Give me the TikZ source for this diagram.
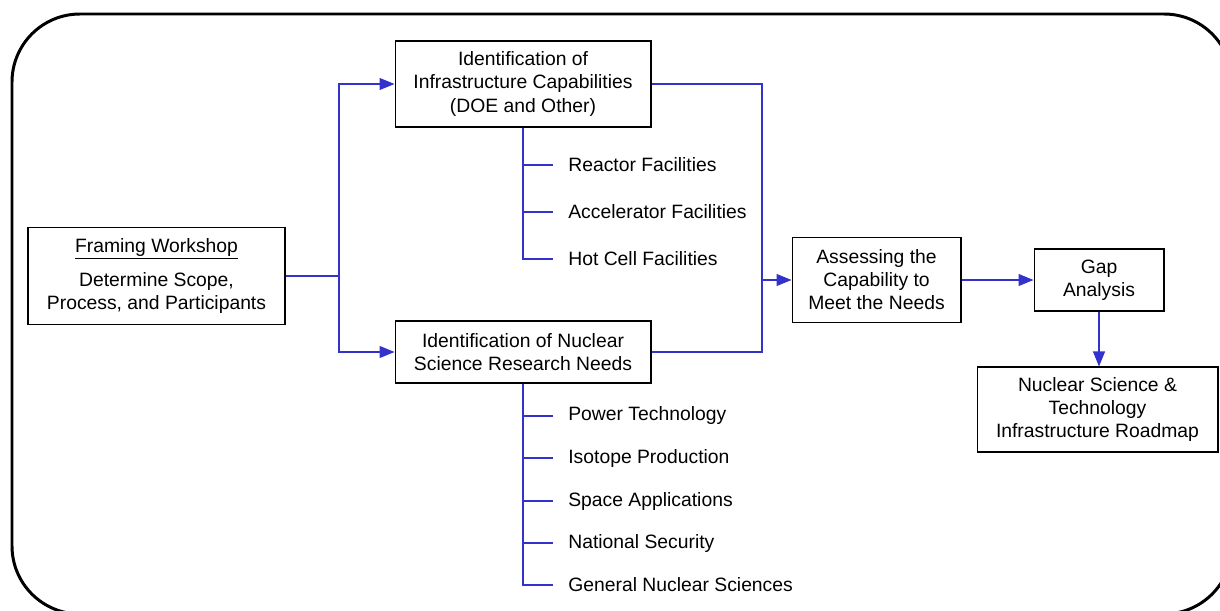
\documentclass[tikz,border=0pt]{standalone}
\usepackage{fontspec}
\setmainfont{Liberation Sans}
\usetikzlibrary{arrows.meta}
\definecolor{linkblue}{RGB}{51,51,204}

\begin{document}
\begin{tikzpicture}[x=0.02cm, y=-0.02cm,
    font=\fontsize{11}{13.1}\selectfont,
    box/.style={draw, line width=0.6pt, align=center, inner sep=0pt},
    item/.style={anchor=west, inner xsep=0.3cm, inner ysep=0pt},
    link/.style={draw=linkblue, line width=0.6pt},
    flow/.style={link, -{Triangle[length=0.3cm, width=0.24cm]}}]
  \useasboundingbox (0,0) rectangle (1220,611);
  \clip (0,0) rectangle (1220,611);
  \draw[line width=1.7pt, rounded corners=1.36cm] (12,14) rectangle (1232,614);

  % boxes
  \node[box, minimum width=5.14cm, minimum height=1.94cm] (workshop) at (156.5,276)
    {\underline{Framing Workshop}\\[6.8pt] Determine Scope,\\ Process, and Participants};
  \node[box, minimum width=5.12cm, minimum height=1.72cm] (capab) at (523,84)
    {Identification of\\ Infrastructure Capabilities\\ (DOE and Other)};
  \node[box, minimum width=5.12cm, minimum height=1.24cm] (needs) at (523,352)
    {Identification of Nuclear\\ Science Research Needs};
  \node[box, minimum width=3.38cm, minimum height=1.70cm] (assess) at (876.5,280)
    {Assessing the\\ Capability to\\ Meet the Needs};
  \node[box, minimum width=2.60cm, minimum height=1.24cm] (gap) at (1099,280)
    {Gap\\ Analysis};
  \node[box, minimum width=4.82cm, minimum height=1.70cm] (roadmap) at (1097.5,409.5)
    {Nuclear Science \&\\ Technology\\ Infrastructure Roadmap};

  % facility list
  \foreach \name/\txt/\ypos in {rf/Reactor Facilities/165, af/Accelerator Facilities/212,
                                 hf/Hot Cell Facilities/259}
    \node[item] (\name) at (553,\ypos) {\txt};
  \draw[link] (capab.south) |- (hf.west);
  \foreach \name in {rf, af}
    \draw[link] (capab.south |- \name.west) -- (\name.west);

  % research needs list
  \foreach \name/\txt/\ypos in {pt/Power Technology/416, ip/Isotope Production/458,
                                 sa/Space Applications/501, ns/National Security/543,
                                 gn/General Nuclear Sciences/585}
    \node[item] (\name) at (553,\ypos) {\txt};
  \draw[link] (needs.south) |- (gn.west);
  \foreach \name in {pt, ip, sa, ns}
    \draw[link] (needs.south |- \name.west) -- (\name.west);

  % flow
  \coordinate (split) at (339,276);
  \coordinate (merge) at (762,280);
  \draw[link] (workshop.east) -- (split);
  \draw[flow] (split) |- (capab.west);
  \draw[flow] (split) |- (needs.west);
  \draw[link] (capab.east) -| (merge);
  \draw[link] (needs.east) -| (merge);
  \draw[flow] (merge) -- (assess.west);
  \draw[flow] (assess.east) -- (gap.west);
  \draw[flow] (gap.south) -- (gap.south |- roadmap.north);
\end{tikzpicture}
\end{document}
